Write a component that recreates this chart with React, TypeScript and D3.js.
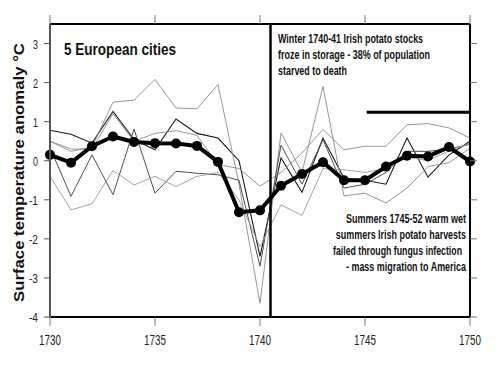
import React, { useLayoutEffect, useRef, useState } from "react";
import * as d3 from "d3";

const years: number[] = d3.range(1730, 1751);

// Five individual city anomaly records (°C)
const cityA: number[] = [0.78, 0.68, 0.45, 1.26, 0.54, 0.28, 1.07, 0.7, 0.58, 0.0, -2.45, 0.07, -0.81, 0.58, -0.45, -0.5, -0.6, 0.58, -0.42, 0.15, 0.5];
const cityB: number[] = [0.5, 0.24, 0.35, 1.5, 1.55, 2.08, 1.35, 1.33, 1.95, -0.6, -3.65, 0.71, -0.3, 1.9, -0.9, -0.83, -1.08, -0.7, -0.15, -0.05, 0.32];
const cityC: number[] = [0.5, 0.3, 0.3, 1.2, 0.5, 0.7, 0.77, 0.65, -0.1, -0.2, -0.65, -0.3, 0.2, 0.8, 0.28, 0.37, 0.37, 0.92, 0.95, 0.84, 0.58];
const cityD: number[] = [0.33, -0.91, 0.15, -0.87, 0.81, -0.83, -0.27, -0.32, -0.36, -0.5, -2.7, 0.4, -0.6, 0.54, -0.7, -0.6, -0.3, 0.24, 0.24, 0.3, 0.42];
const cityE: number[] = [-0.4, -1.26, -1.1, -0.25, -0.62, -0.4, -0.66, -0.4, -0.3, -1.0, -2.2, -1.13, -1.4, -0.2, -0.23, -0.3, -0.2, 0.1, 0.0, 0.25, 0.45];

// Five-city mean
const meanSeries: number[] = [0.15, -0.05, 0.37, 0.62, 0.48, 0.45, 0.44, 0.38, -0.03, -1.32, -1.27, -0.64, -0.34, -0.04, -0.5, -0.5, -0.15, 0.13, 0.11, 0.35, -0.02];

const cityColors: string[] = ["#1a1a1a", "#8a8a8a", "#8a8a8a", "#505050", "#9a9a9a"];
const cityWidths: number[] = [1.1, 0.9, 0.9, 1.0, 0.9];

const xTicks: number[] = [1730, 1735, 1740, 1745, 1750];
const yTicks: number[] = [-4, -3, -2, -1, 0, 1, 2, 3];

const frostYear = 1740.5;
const blightStart = 1745.08;
const blightEnd = 1750;
const blightLevel = 1.24;

const titleText = "5 European cities";
const yAxisTitle = "Surface temperature anomaly °C";
const winterNote: string[] = [
  "Winter 1740-41 Irish potato stocks",
  "froze in storage - 38% of population",
  "starved to death",
];
const winterWidths: number[] = [145, 152, 69];
const summerNote: string[] = [
  "Summers 1745-52 warm wet",
  "summers Irish potato harvests",
  "failed through fungus infection",
  "- mass migration to America",
];
const summerWidths: number[] = [120, 130, 129, 120];
const summerRight: number[] = [466, 466, 462, 466];

const FONT = "'Liberation Sans', Arial, sans-serif";

type NarrowProps = {
  x: number;
  y: number;
  width: number;
  anchor?: "start" | "middle" | "end";
  rotate?: number;
  fontSize: number;
  bold?: boolean;
  fill?: string;
  children: string;
};

// Text drawn in a condensed face: the natural run is measured, then squeezed to the given width.
function NarrowText({ x, y, width, anchor = "start", rotate = 0, fontSize, bold, fill = "#111", children }: NarrowProps) {
  const ref = useRef<SVGTextElement>(null);
  const [k, setK] = useState(0.7);
  useLayoutEffect(() => {
    if (ref.current) {
      const n = ref.current.getComputedTextLength();
      if (n > 0) setK(width / n);
    }
  }, [children, width, fontSize]);
  return (
    <g transform={`translate(${x},${y}) rotate(${rotate}) scale(${k},1)`}>
      <text
        ref={ref}
        x={0}
        y={0}
        textAnchor={anchor}
        fontSize={fontSize}
        fontWeight={bold ? "bold" : "normal"}
        fill={fill}
      >
        {children}
      </text>
    </g>
  );
}

export default function App() {
  const W = 500;
  const H = 375;
  const left = 50;
  const right = 470;
  const top = 24;
  const bottom = 317;

  const x = d3.scaleLinear().domain([1730, 1750]).range([left, right]);
  const y = d3.scaleLinear().domain([-4, 3.5]).range([bottom, top]);

  const line = d3
    .line<number>()
    .x((_, i) => x(years[i]))
    .y((d) => y(d));

  const cities = [cityA, cityB, cityC, cityD, cityE];

  return (
    <svg
      width={W}
      height={H}
      style={{ position: "absolute", left: 0, top: 0, background: "#fff" }}
      fontFamily={FONT}
    >
      <rect x={0} y={0} width={W} height={H} fill="#fff" />

      {/* city records */}
      {cities.map((s, i) => (
        <path key={i} d={line(s) || ""} fill="none" stroke={cityColors[i]} strokeWidth={cityWidths[i]} />
      ))}

      {/* mean record */}
      <path d={line(meanSeries) || ""} fill="none" stroke="#000" strokeWidth={4} strokeLinejoin="round" />
      {meanSeries.map((v, i) => (
        <circle key={i} cx={x(years[i])} cy={y(v)} r={5} fill="#000" />
      ))}

      {/* frame */}
      <line x1={left} x2={right} y1={top} y2={top} stroke="#000" strokeWidth={2} />
      <line x1={left} x2={right} y1={bottom} y2={bottom} stroke="#000" strokeWidth={2} />
      <line x1={right} x2={right} y1={top} y2={bottom} stroke="#000" strokeWidth={2} />
      <line x1={left} x2={left} y1={top} y2={bottom + 1} stroke="#555" strokeWidth={2} />

      {/* x ticks, above and below */}
      {xTicks.map((t) => (
        <g key={t}>
          <line x1={x(t)} x2={x(t)} y1={top} y2={top - 9} stroke="#777" strokeWidth={1} />
          <line x1={x(t)} x2={x(t)} y1={bottom} y2={bottom + 9} stroke="#777" strokeWidth={1} />
          <NarrowText x={x(t)} y={345} width={22} anchor="middle" fontSize={15} fill="#222">
            {String(t)}
          </NarrowText>
        </g>
      ))}

      {/* y ticks, left and right */}
      {yTicks.map((t) => (
        <g key={t}>
          <line x1={left} x2={left - 6} y1={y(t)} y2={y(t)} stroke="#555" strokeWidth={1} />
          <line x1={right} x2={right + 7} y1={y(t)} y2={y(t)} stroke="#777" strokeWidth={1} />
          <NarrowText x={38} y={y(t) + 5} width={t < 0 ? 9 : 5} anchor="end" fontSize={13.5} fill="#222">
            {String(t)}
          </NarrowText>
        </g>
      ))}

      {/* event markers */}
      <line x1={x(frostYear)} x2={x(frostYear)} y1={top} y2={bottom} stroke="#000" strokeWidth={2.5} />
      <line x1={x(blightStart)} x2={x(blightEnd)} y1={y(blightLevel)} y2={y(blightLevel)} stroke="#000" strokeWidth={3} />

      {/* titles */}
      <NarrowText x={64} y={55} width={112} fontSize={17} bold>
        {titleText}
      </NarrowText>
      <g transform={`translate(24, ${(43 + 302) / 2}) rotate(-90)`}>
        <NarrowText x={0} y={0} width={259} anchor="middle" fontSize={15} bold>
          {yAxisTitle}
        </NarrowText>
      </g>

      {winterNote.map((s, i) => (
        <NarrowText key={i} x={278} y={43 + i * 16} width={winterWidths[i]} fontSize={12} bold>
          {s}
        </NarrowText>
      ))}

      {summerNote.map((s, i) => (
        <NarrowText key={i} x={summerRight[i]} y={223 + i * 16} width={summerWidths[i]} anchor="end" fontSize={12} bold>
          {s}
        </NarrowText>
      ))}
    </svg>
  );
}
